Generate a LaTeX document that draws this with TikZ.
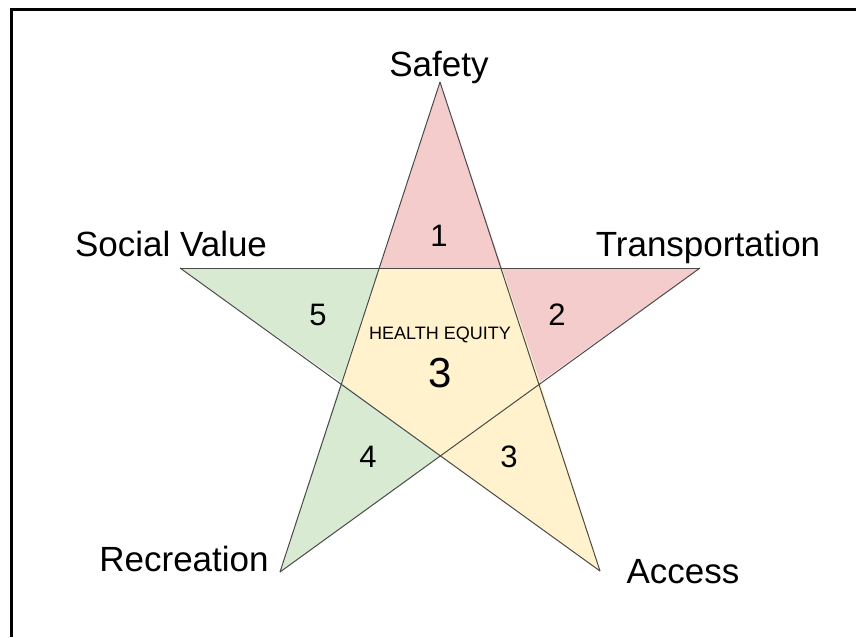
\documentclass[tikz,border=0pt]{standalone}
\usepackage{fontspec}
\setmainfont{Liberation Sans}
\definecolor{spink}{HTML}{F4CCCC}
\definecolor{sgreen}{HTML}{D9EAD3}
\definecolor{syellow}{HTML}{FFF2CC}
\definecolor{sline}{HTML}{4A4A4A}
\tikzset{
  biglabel/.style={anchor=base, inner sep=0pt, font=\fontsize{35}{40}\selectfont},
  numlabel/.style={anchor=center, inner sep=0pt, font=\fontsize{31}{36}\selectfont},
  starline/.style={draw=sline, line width=1pt},
}
\begin{document}
\begin{tikzpicture}[x=1pt, y=-1pt]
\useasboundingbox (0,0) rectangle (856,637);
\fill[white] (0,0) rectangle (856,637);
% outer tips
\coordinate (T) at (440,82);
\coordinate (L) at (180,268);
\coordinate (R) at (700,268);
\coordinate (BL) at (280,572);
\coordinate (BR) at (600,571);
% inner pentagon
\coordinate (ITL) at (379,268);
\coordinate (ITR) at (502,268);
\coordinate (IR) at (540,382);
\coordinate (IB) at (440,456);
\coordinate (IL) at (341,382);
% fills
\fill[spink] (T) -- (ITL) -- (ITR) -- cycle;
\fill[spink] (ITR) -- (R) -- (IR) -- cycle;
\fill[sgreen] (L) -- (ITL) -- (IL) -- cycle;
\fill[sgreen] (IL) -- (BL) -- (IB) -- cycle;
\fill[syellow] (IR) -- (BR) -- (IB) -- cycle;
\fill[syellow] (ITL) -- (ITR) -- (IR) -- (IB) -- (IL) -- cycle;
% star lines
\draw[starline] (T) -- (BL);
\draw[starline] (BL) -- (R);
\draw[starline] (R) -- (L);
\draw[starline] (L) -- (BR);
\draw[starline] (BR) -- (T);
% frame
\draw[line width=3pt] (11,637) -- (11,9.5) -- (856,9.5);
% labels
\node[biglabel] (safety) at (439,76) {Safety};
\node[biglabel] (social) at (171,256) {Social Value};
\node[biglabel] (transp) at (708,256) {Transportation};
\node[biglabel] (recre) at (184,571) {Recreation};
\node[biglabel] (access) at (683,583) {Access};
% numbers
\node[numlabel] (n1) at (439,236) {1};
\node[numlabel] (n2) at (557,315) {2};
\node[numlabel] (n5) at (318,315) {5};
\node[numlabel] (n4) at (368,457) {4};
\node[numlabel] (n3) at (509,457) {3};
\node[anchor=center, inner sep=0pt, font=\fontsize{18}{20}\selectfont] (he) at (440,335) {HEALTH EQUITY};
\node[anchor=center, inner sep=0pt, font=\fontsize{42}{46}\selectfont] (big3) at (440,373) {3};
\end{tikzpicture}
\end{document}
